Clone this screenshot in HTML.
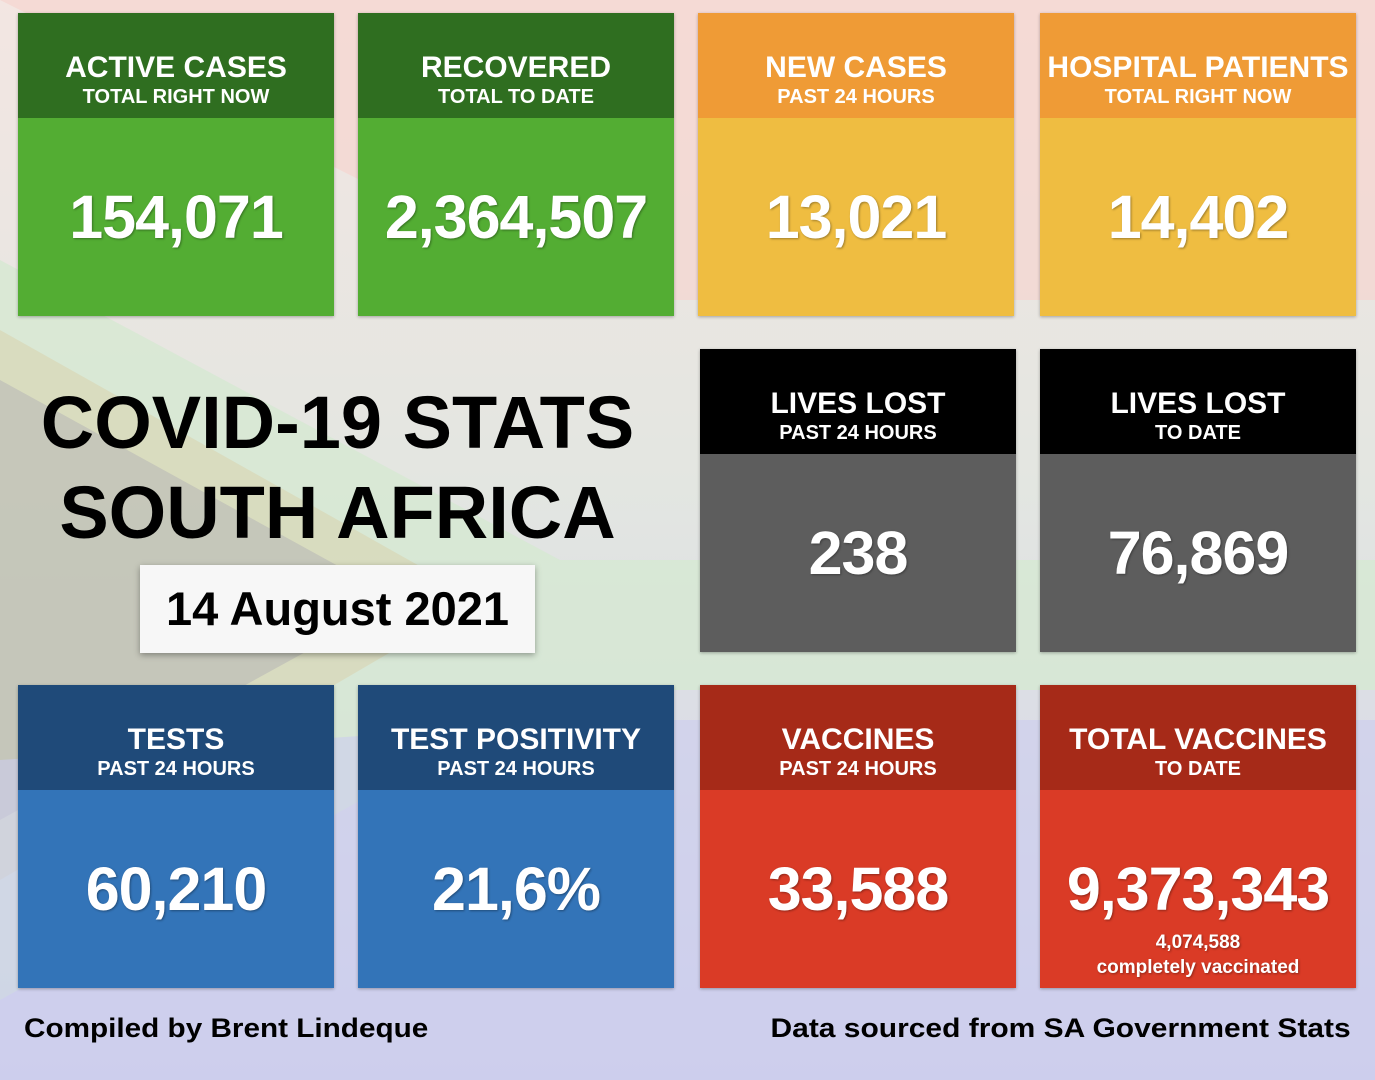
<!DOCTYPE html>
<html><head><meta charset="utf-8"><style>
body{margin:0;width:1375px;height:1080px;overflow:hidden;font-family:"Liberation Sans",Arial,sans-serif;font-weight:bold;position:relative;background:#e4e6e2}
.bg{position:absolute;left:0;top:0}
.box{position:absolute;width:316px;color:#fff;text-align:center;box-shadow:0 1px 3px rgba(0,0,0,.3)}
.h{height:105px;box-sizing:border-box;padding-top:39px}
.h .t{font-size:30px;line-height:32px}
.h .s{font-size:20px;line-height:26px}
.b{height:198px;font-size:61px;display:flex;align-items:center;justify-content:center;text-shadow:1px 1px 2px rgba(0,0,0,.35);letter-spacing:-1px}
.title{position:absolute;left:0;width:675px;text-align:center;font-size:74px;color:#000}
.date{position:absolute;left:140px;top:565px;width:395px;height:88px;background:#f7f7f7;box-shadow:0 2px 6px rgba(0,0,0,.35);font-size:47px;text-align:center;line-height:88px}
.foot{position:absolute;top:1013px;font-size:27px;color:#000;white-space:nowrap}
</style></head><body>
<svg class="bg" width="1375" height="1080">
<defs><linearGradient id="g" x1="0" y1="0" x2="0" y2="1">
<stop offset="0" stop-color="#f3e6e2"/><stop offset=".45" stop-color="#e3e6e1"/><stop offset="1" stop-color="#d0d0ec"/></linearGradient></defs>
<rect width="1375" height="1080" fill="url(#g)"/>
<polygon points="0,0 700,0 1375,0 1375,300 600,300 0,0" fill="#f6d2cd" opacity=".6"/>
<polygon points="0,260 560,560 1375,560 1375,690 560,690 0,1000" fill="#d6e8d2" opacity=".8"/>
<polygon points="0,330 480,600 0,880" fill="#d9d4b0" opacity=".6"/>
<polygon points="0,380 400,600 0,820" fill="#bdbdb8" opacity=".7"/>
<polygon points="0,760 600,720 1375,720 1375,1080 0,1080" fill="#cccdee" opacity=".6"/>
</svg>

<div class="box" style="left:18px;top:13px"><div class="h" style="background:#2f6e20"><div class="t">ACTIVE CASES</div><div class="s">TOTAL RIGHT NOW</div></div><div class="b" style="background:#53ad33">154,071</div></div>
<div class="box" style="left:358px;top:13px"><div class="h" style="background:#2f6e20"><div class="t">RECOVERED</div><div class="s">TOTAL TO DATE</div></div><div class="b" style="background:#53ad33">2,364,507</div></div>
<div class="box" style="left:698px;top:13px"><div class="h" style="background:#ef9b36"><div class="t">NEW CASES</div><div class="s">PAST 24 HOURS</div></div><div class="b" style="background:#efbd41">13,021</div></div>
<div class="box" style="left:1040px;top:13px"><div class="h" style="background:#ef9b36"><div class="t">HOSPITAL PATIENTS</div><div class="s">TOTAL RIGHT NOW</div></div><div class="b" style="background:#efbd41">14,402</div></div>

<div class="box" style="left:700px;top:349px"><div class="h" style="background:#000"><div class="t">LIVES LOST</div><div class="s">PAST 24 HOURS</div></div><div class="b" style="background:#5d5d5d">238</div></div>
<div class="box" style="left:1040px;top:349px"><div class="h" style="background:#000"><div class="t">LIVES LOST</div><div class="s">TO DATE</div></div><div class="b" style="background:#5d5d5d">76,869</div></div>

<div class="box" style="left:18px;top:685px"><div class="h" style="background:#1f4a79"><div class="t">TESTS</div><div class="s">PAST 24 HOURS</div></div><div class="b" style="background:#3374b8">60,210</div></div>
<div class="box" style="left:358px;top:685px"><div class="h" style="background:#1f4a79"><div class="t">TEST POSITIVITY</div><div class="s">PAST 24 HOURS</div></div><div class="b" style="background:#3374b8">21,6%</div></div>
<div class="box" style="left:700px;top:685px"><div class="h" style="background:#a62a18"><div class="t">VACCINES</div><div class="s">PAST 24 HOURS</div></div><div class="b" style="background:#da3b26">33,588</div></div>
<div class="box" style="left:1040px;top:685px"><div class="h" style="background:#a62a18"><div class="t">TOTAL VACCINES</div><div class="s">TO DATE</div></div><div class="b" style="background:#da3b26;flex-direction:column;justify-content:flex-start;padding-top:64px;height:134px"><div>9,373,343</div><div style="font-size:19px;line-height:25px;letter-spacing:0;margin-top:6px">4,074,588<br>completely vaccinated</div></div></div>

<div class="title" style="top:380px">COVID-19 STATS</div>
<div class="title" style="top:470px">SOUTH AFRICA</div>
<div class="date">14 August 2021</div>
<div class="foot" style="left:24px;transform:scaleX(1.1);transform-origin:left">Compiled by Brent Lindeque</div>
<div class="foot" style="right:24px;transform:scaleX(1.11);transform-origin:right">Data sourced from SA Government Stats</div>
</body></html>
